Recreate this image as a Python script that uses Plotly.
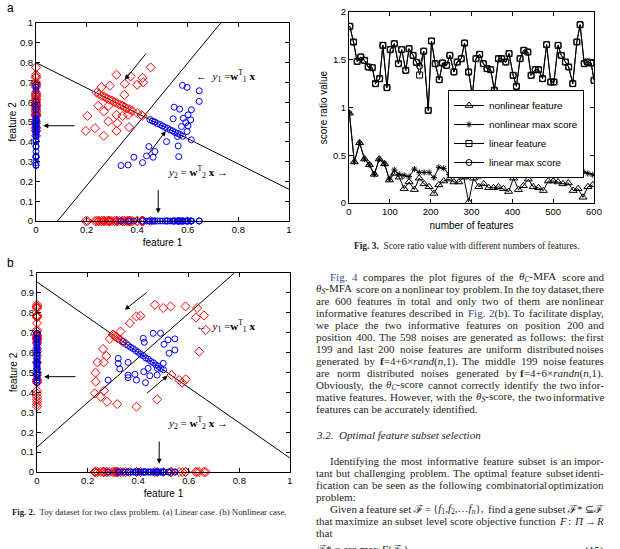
import re
import plotly.graph_objects as go

# ---------------- Fig. 2(a): linear toy case ----------------
a_red_x = [0.453, 0.318, 0.374, 0.421, 0.351, 0.400, 0.424, 0.292, 0.259, 0.349,
           0.246, 0.286, 0.268, 0.318, 0.342, 0.364, 0.203, 0.321, 0.286, 0.368,
           0.197, 0.233, 0.318, 0.268, 0.417,
           0.240, 0.250, 0.260, 0.270, 0.280, 0.290, 0.300, 0.310, 0.320, 0.330,
           0.340, 0.350, 0.360, 0.370, 0.380, 0.400, 0.420]
a_red_y = [0.776, 0.739, 0.730, 0.723, 0.693, 0.688, 0.700, 0.683, 0.676, 0.637,
           0.582, 0.582, 0.553, 0.536, 0.531, 0.536, 0.531, 0.494, 0.503, 0.474,
           0.455, 0.469, 0.455, 0.430, 0.536,
           0.648, 0.641, 0.632, 0.628, 0.620, 0.613, 0.609, 0.600, 0.596, 0.588,
           0.583, 0.576, 0.569, 0.563, 0.556, 0.545, 0.531]
a_blue_x = [0.579, 0.597, 0.645, 0.645, 0.546, 0.568, 0.614, 0.601, 0.542, 0.582,
            0.611, 0.592, 0.575, 0.601, 0.516, 0.559, 0.597, 0.614, 0.446, 0.470,
            0.437, 0.387, 0.463, 0.421, 0.364, 0.336, 0.564, 0.562,
            0.450, 0.460, 0.470, 0.480, 0.490, 0.500, 0.510, 0.520, 0.530, 0.540,
            0.550, 0.560, 0.570, 0.580]
a_blue_y = [0.685, 0.675, 0.658, 0.604, 0.575, 0.565, 0.562, 0.536, 0.516, 0.519,
            0.511, 0.497, 0.477, 0.481, 0.401, 0.427, 0.452, 0.410, 0.376, 0.351,
            0.329, 0.322, 0.322, 0.295, 0.283, 0.280, 0.325, 0.379,
            0.512, 0.505, 0.500, 0.492, 0.487, 0.480, 0.473, 0.468, 0.460, 0.455,
            0.447, 0.442, 0.436, 0.428]
a_w1_x = [0.0, 1.0]
a_w1_y = [0.80, 0.16]
a_w2_x = [0.085, 0.73]
a_w2_y = [0.0, 1.0]

# ---------------- Fig. 2(b): nonlinear toy case ----------------
b_red_x = [0.466, 0.499, 0.528, 0.587, 0.633, 0.628, 0.660, 0.667, 0.641, 0.393,
           0.409, 0.367, 0.330, 0.288, 0.261, 0.274, 0.264, 0.239, 0.231, 0.232,
           0.228, 0.252, 0.265, 0.277, 0.317, 0.393, 0.475, 0.532, 0.562, 0.574,
           0.588,
           0.300, 0.305, 0.310, 0.315, 0.320, 0.330, 0.340, 0.350]
b_red_y = [0.840, 0.824, 0.832, 0.832, 0.824, 0.776, 0.787, 0.714, 0.605, 0.782,
           0.785, 0.748, 0.706, 0.669, 0.618, 0.583, 0.551, 0.551, 0.499, 0.454,
           0.395, 0.378, 0.408, 0.353, 0.341, 0.328, 0.365, 0.487, 0.462, 0.449,
           0.466,
           0.690, 0.686, 0.680, 0.677, 0.671, 0.664, 0.653, 0.646]
b_blue_x = [0.459, 0.488, 0.420, 0.424, 0.502, 0.518, 0.545, 0.522, 0.545, 0.321,
            0.360, 0.327, 0.360, 0.387, 0.393, 0.360, 0.422, 0.439, 0.446, 0.476,
            0.499, 0.429, 0.475, 0.281, 0.321,
            0.340, 0.360, 0.370, 0.380, 0.390, 0.400, 0.410, 0.420, 0.430, 0.440,
            0.450, 0.460, 0.470, 0.480, 0.490, 0.500]
b_blue_y = [0.697, 0.697, 0.672, 0.652, 0.642, 0.664, 0.669, 0.597, 0.613, 0.546,
            0.551, 0.518, 0.487, 0.491, 0.462, 0.474, 0.504, 0.521, 0.484, 0.521,
            0.546, 0.449, 0.487, 0.462, 0.571,
            0.655, 0.636, 0.627, 0.620, 0.610, 0.602, 0.591, 0.584, 0.573, 0.567,
            0.556, 0.549, 0.538, 0.531, 0.520, 0.514]
b_w1_x = [0.0, 1.0]
b_w1_y = [0.955, 0.07]
b_w2_x = [0.0, 0.78]
b_w2_y = [0.125, 1.0]

# ---------------- Fig. 3: score ratio values ----------------
lin_x = [2, 11, 20, 29, 38, 47, 57, 65, 75, 83,
         93, 101, 111, 121, 129, 139, 147, 157, 165, 173,
         183, 194, 202, 211, 221, 229, 239, 247, 257, 265,
         275, 283, 293, 302, 311, 320, 329, 338, 347, 356,
         366, 374, 384, 392, 402, 410, 419, 428, 438, 446,
         456, 464, 474, 484, 494, 502, 512, 520, 530, 538,
         548, 558, 566, 576, 584, 593, 600]
lin_max = [1.85, 1.686, 1.483, 1.529, 1.494, 1.424, 1.417, 1.25, 1.302, 1.651,
           1.208, 1.606, 1.668, 1.459, 1.606, 1.389, 1.616, 1.546, 1.473, 1.431,
           1.59, 0.97, 1.696, 1.459, 1.291, 1.466, 1.441, 1.546, 1.372, 1.476,
           1.511, 1.675, 1.372, 1.127, 1.511, 1.557, 1.459, 1.407, 1.396, 1.18,
           1.511, 1.511, 1.476, 1.564, 1.337, 1.222, 1.511, 1.599, 1.581, 1.337,
           1.396, 1.396, 1.302, 1.658, 1.267, 1.267, 1.651, 1.546, 1.476, 1.424,
           1.25, 1.686, 1.867, 1.459, 1.476, 1.466, 1.284]
lin_feat = [1.85, 1.686, 1.483, 1.529, 1.494, 1.424, 1.417, 1.25, 1.302, 1.651,
            1.208, 1.606, 1.668, 1.459, 1.606, 1.389, 1.616, 1.546, 1.473, 1.34,
            1.59, 0.97, 1.696, 1.459, 1.291, 1.466, 1.441, 1.546, 1.372, 1.476,
            1.511, 1.675, 1.372, 1.127, 1.511, 1.557, 1.459, 1.407, 1.396, 1.18,
            1.511, 1.511, 1.476, 1.564, 1.337, 1.222, 1.511, 1.599, 1.581, 1.337,
            1.396, 1.396, 1.302, 1.658, 1.267, 1.267, 1.651, 1.546, 1.476, 1.424,
            1.25, 1.686, 1.867, 1.459, 1.476, 1.466, 1.284]
nl_x = [1, 13, 26, 38, 50, 62, 74, 87, 99, 111,
        123, 135, 147, 160, 172, 184, 196, 208, 220, 232,
        245, 257, 269, 281, 293, 305, 318, 330, 342, 354,
        366, 378, 391, 403, 415, 427, 439, 451, 464, 476,
        488, 500, 512, 524, 537, 549, 561, 573, 585, 597]
nl_feat = [0.94, 0.43, 0.63, 0.46, 0.40, 0.30, 0.46, 0.41, 0.24, 0.31,
           0.27, 0.15, 0.22, 0.14, 0.26, 0.20, 0.17, 0.10, 0.19, 0.23,
           0.25, 0.22, 0.22, 0.27, 0.01, 0.26, 0.17, 0.20, 0.16, 0.16,
           0.17, 0.15, 0.12, 0.26, 0.14, 0.18, 0.25, 0.17, 0.16, 0.13,
           0.23, 0.23, 0.22, 0.20, 0.21, 0.13, 0.15, 0.06, 0.17, 0.19]
nl_max = [0.94, 0.43, 0.63, 0.46, 0.40, 0.30, 0.46, 0.41, 0.25, 0.346,
          0.30, 0.29, 0.276, 0.356, 0.32, 0.32, 0.32, 0.265, 0.374, 0.363,
          0.30, 0.30, 0.363, 0.30, 0.28, 0.41, 0.276, 0.346, 0.363, 0.363,
          0.346, 0.32, 0.30, 0.33, 0.398, 0.33, 0.39, 0.29, 0.32, 0.381,
          0.398, 0.416, 0.381, 0.39, 0.29, 0.33, 0.346, 0.328, 0.31, 0.295]

W, H = 620, 549
RED, BLUE = "#ff0000", "#0000ff"
SANS = "Liberation Sans, Arial, sans-serif"
SERIF = "Liberation Serif, Times New Roman, serif"
INK = "#231f20"
LINK = "#2b4c9b"
BODY_SIZE = 11


def px(x):
    return x / W


def py(y):
    return 1 - y / H


fig = go.Figure()


def toy_panel(xa, ya, rx, ry, bx, by, l1x, l1y, l2x, l2y):
    red = dict(symbol="diamond-open", size=7, color=RED, line=dict(width=1))
    blue = dict(symbol="circle-open", size=6, color=BLUE, line=dict(width=1))
    # projections onto the two axes
    fig.add_trace(go.Scatter(x=[0] * len(ry), y=ry, mode="markers", xaxis=xa, yaxis=ya,
                             marker=red, cliponaxis=False, showlegend=False))
    fig.add_trace(go.Scatter(x=[0] * len(by), y=by, mode="markers", xaxis=xa, yaxis=ya,
                             marker=blue, cliponaxis=False, showlegend=False))
    fig.add_trace(go.Scatter(x=rx, y=[0] * len(rx), mode="markers", xaxis=xa, yaxis=ya,
                             marker=red, cliponaxis=False, showlegend=False))
    fig.add_trace(go.Scatter(x=bx, y=[0] * len(bx), mode="markers", xaxis=xa, yaxis=ya,
                             marker=blue, cliponaxis=False, showlegend=False))
    for lx, ly in [(l1x, l1y), (l2x, l2y)]:
        fig.add_trace(go.Scatter(x=lx, y=ly, mode="lines", xaxis=xa, yaxis=ya,
                                 line=dict(color="black", width=1), showlegend=False))
    # the 2-D samples
    fig.add_trace(go.Scatter(x=rx, y=ry, mode="markers", xaxis=xa, yaxis=ya,
                             marker=red, showlegend=False))
    fig.add_trace(go.Scatter(x=bx, y=by, mode="markers", xaxis=xa, yaxis=ya,
                             marker=blue, showlegend=False))


toy_panel("x", "y", a_red_x, a_red_y, a_blue_x, a_blue_y, a_w1_x, a_w1_y, a_w2_x, a_w2_y)
toy_panel("x2", "y2", b_red_x, b_red_y, b_blue_x, b_blue_y, b_w1_x, b_w1_y, b_w2_x, b_w2_y)

# Fig. 3 series
series3 = [
    ("nonlinear feature", nl_x, nl_feat, "triangle-up-open", 7),
    ("nonlinear max score", nl_x, nl_max, "asterisk-open", 5),
    ("linear feature", lin_x, lin_feat, "square-open", 6),
    ("linear max score", lin_x, lin_max, "circle-open", 6),
]
for name, xs, ys, sym, sz in series3:
    fig.add_trace(go.Scatter(x=xs, y=ys, name=name, mode="lines+markers",
                             xaxis="x3", yaxis="y3", line=dict(color="black", width=1),
                             marker=dict(symbol=sym, size=sz, color="black", line=dict(width=1))))


def ax(**kw):
    d = dict(showline=True, linecolor="black", linewidth=1, mirror="ticks", ticks="inside",
             ticklen=4, tickcolor="black", showgrid=False, zeroline=False, automargin=False,
             tickfont=dict(size=9.5, color="black", family=SANS),
             title_font=dict(size=10, color="black", family=SANS))
    d.update(kw)
    return d


fig.update_layout(
    width=W, height=H, margin=dict(l=0, r=0, t=0, b=0),
    template="none", paper_bgcolor="white", plot_bgcolor="white",
    font=dict(family=SANS, color="black"), hovermode=False,
    xaxis=ax(domain=[px(36), px(289)], range=[0, 1], dtick=0.2, anchor="y",
             title=dict(text="feature 1", standoff=4)),
    yaxis=ax(domain=[py(221), py(23)], range=[0, 1], dtick=0.1, anchor="x",
             title=dict(text="feature 2", standoff=1)),
    xaxis2=ax(domain=[px(37), px(290)], range=[0, 1], dtick=0.2, anchor="y2",
              title=dict(text="feature 1", standoff=4)),
    yaxis2=ax(domain=[py(472), py(273)], range=[0, 1], dtick=0.1, anchor="x2",
              title=dict(text="feature 2", standoff=1)),
    xaxis3=ax(domain=[px(349), px(594)], range=[0, 600], dtick=100, anchor="y3",
              title=dict(text="number of features", standoff=5)),
    yaxis3=ax(domain=[py(203), py(12)], range=[0, 2], dtick=0.5, anchor="x3",
              title=dict(text="score ratio value", standoff=3)),
    showlegend=True,
    legend=dict(x=px(448), y=py(90), xanchor="left", yanchor="top",
                bgcolor="white", bordercolor="black", borderwidth=1,
                font=dict(size=9.8, family=SANS, color="black"), itemwidth=30,
                tracegroupgap=0),
)

ann = []


def arrow(xr, yr, x0, y0, x1, y1):
    ann.append(dict(xref=xr, yref=yr, axref=xr, ayref=yr, x=x1, y=y1, ax=x0, ay=y0,
                    text="", showarrow=True, arrowhead=2, arrowsize=1, arrowwidth=1,
                    arrowcolor="black"))


def eq(xr, yr, x, y, txt):
    ann.append(dict(xref=xr, yref=yr, x=x, y=y, text=txt, showarrow=False, xanchor="left",
                    font=dict(family=SERIF, size=11, color="black")))


y1_txt = "←  <i>y</i><sub>1</sub> =<b>w</b><sup>T</sup><sub>1</sub><b> x</b>"
y2_txt = "<i>y</i><sub>2</sub> = <b>w</b><sup>T</sup><sub>2</sub><b> x</b> →"

# panel a
arrow("x", "y", 0.439, 0.852, 0.351, 0.713)
arrow("x", "y", 0.158, 0.481, 0.029, 0.481)
arrow("x", "y", 0.437, 0.325, 0.513, 0.455)
arrow("x", "y", 0.483, 0.165, 0.483, 0.039)
eq("x", "y", 0.625, 0.733, y1_txt)
eq("x", "y", 0.512, 0.245, y2_txt)
# panel b
arrow("x2", "y2", 0.439, 0.908, 0.347, 0.815)
arrow("x2", "y2", 0.158, 0.479, 0.028, 0.479)
arrow("x2", "y2", 0.429, 0.390, 0.516, 0.484)
arrow("x2", "y2", 0.483, 0.160, 0.483, 0.042)
eq("x2", "y2", 0.622, 0.736, y1_txt)
eq("x2", "y2", 0.510, 0.244, y2_txt)


def txt(x, y, s, size=BODY_SIZE, family=SERIF, anchor="left", color=INK):
    ann.append(dict(xref="paper", yref="paper", x=px(x), y=py(y), text=s, showarrow=False,
                    xanchor=anchor, yanchor="middle", borderpad=0,
                    font=dict(family=family, size=size, color=color)))


# rough Times advance widths (1/1000 em), used to justify the body text
TIMES = {" ": 250, ".": 250, ",": 250, ":": 278, "-": 333, "(": 333, ")": 333,
         "+": 564, "=": 564, "×": 564, "{": 480, "}": 480, "*": 500, "θ": 500,
         "ℱ": 900, "…": 1000, "⊆": 820, "→": 1000, "Π": 720}
TIMES.update({c: 500 for c in "0123456789"})
TIMES.update(dict(zip("abcdefghijklmnopqrstuvwxyz",
                      [444, 500, 444, 500, 444, 333, 500, 500, 278, 278, 500, 278, 778,
                       500, 500, 500, 500, 333, 389, 278, 500, 500, 722, 500, 500, 444])))
TIMES.update(dict(zip("ABCDEFGHIJKLMNOPQRSTUVWXYZ",
                      [722, 667, 667, 722, 611, 556, 722, 722, 333, 389, 722, 611, 889,
                       722, 722, 556, 722, 667, 556, 611, 722, 722, 944, 722, 722, 611])))


def text_width(s, size):
    w, scale = 0.0, 1.0
    for tok in re.split(r"(<[^>]+>)", s):
        if tok.startswith("<"):
            if tok in ("<sub>", "<sup>"):
                scale = 0.7
            elif tok in ("</sub>", "</sup>"):
                scale = 1.0
            continue
        for ch in tok:
            w += TIMES.get(ch, 500) * scale
    return w / 1000 * size


def justified(left, right, y, line):
    # split on spaces that are not inside an html tag
    words = re.split(r" (?![^<]*>)", line)
    widths = [text_width(wd, BODY_SIZE) for wd in words]
    gap = (right - left - sum(widths)) / (len(words) - 1)
    xpos = left
    for i, wd in enumerate(words):
        if i == len(words) - 1:
            txt(right, y, wd, anchor="right")
        else:
            txt(xpos, y, wd)
        xpos += widths[i] + gap


txt(6, 8, "a", size=12, family=SANS, color="black")
txt(6, 263, "b", size=12, family=SANS, color="black")
txt(11, 512, "<b>Fig. 2.</b>  Toy dataset for two class problem. (a) Linear case. (b) Nonlinear case.",
    size=8.8)
txt(353, 246, "<b>Fig. 3.</b>  Score ratio value with different numbers of features.", size=9.4)


def blue(s):
    return "<span style='color:%s'>%s</span>" % (LINK, s)


thC = "<i>θ</i><sub><i>C</i></sub>"
thS = "<i>θ</i><sub><i>S</i></sub>"

par1 = [
    blue("Fig.") + " " + blue("4") + " compares the plot figures of the " + thC + "-MFA score and",
    thS + "-MFA score on a nonlinear toy problem. In the toy dataset, there",
    "are 600 features in total and only two of them are nonlinear",
    "informative features described in " + blue("Fig.") + " " + blue("2") + "(b). To facilitate display,",
    "we place the two informative features on position 200 and",
    "position 400. The 598 noises are generated as follows: the first",
    "199 and last 200 noise features are uniform distributed noises",
    "generated by <b>f</b>=4+6×<i>rand</i>(<i>n</i>,1). The middle 199 noise features",
    "are norm distributed noises generated by <b>f</b>=4+6×<i>randn</i>(<i>n</i>,1).",
    "Obviously, the " + thC + "-score cannot correctly identify the two infor-",
    "mative features. However, with the " + thS + "-score, the two informative",
    "features can be accurately identified.",
]
par2 = [
    "Identifying the most informative feature subset is an impor-",
    "tant but challenging problem. The optimal feature subset identi-",
    "fication can be seen as the following combinatorial optimization",
    "problem:",
    "Given a feature set ℱ = {<i>f</i><sub>1</sub>,<i>f</i><sub>2</sub>,…<i>f</i><sub><i>n</i></sub>}, "
    "find a gene subset ℱ* ⊆ ℱ",
    "that maximize an subset level score objective function <i>F</i> : <i>Π</i> → <i>R</i>",
    "that",
]
par2_indent = [True, False, False, False, True, False, False]
par2_last = [False, False, False, True, False, False, True]

LEFT, RIGHT = 315, 605
for i, line in enumerate(par1):
    left = LEFT + 14 if i == 0 else LEFT
    if i == len(par1) - 1:
        txt(left, 277 + 12 * i, line)
    else:
        justified(left, RIGHT, 277 + 12 * i, line)
txt(LEFT, 435, "<i>3.2.  Optimal feature subset selection</i>")
for i, line in enumerate(par2):
    left = LEFT + 14 if par2_indent[i] else LEFT
    if par2_last[i]:
        txt(left, 461 + 12 * i, line)
    else:
        justified(left, RIGHT, 461 + 12 * i, line)
txt(LEFT, 550, "ℱ* = arg max <i>F</i>(ℱ<sub><i>s</i></sub>)")
txt(RIGHT, 550, "(15)", anchor="right")

fig.update_layout(annotations=ann)
fig.write_html("out.html", config={"displayModeBar": False},
               post_script="document.body.style.margin='0';")
